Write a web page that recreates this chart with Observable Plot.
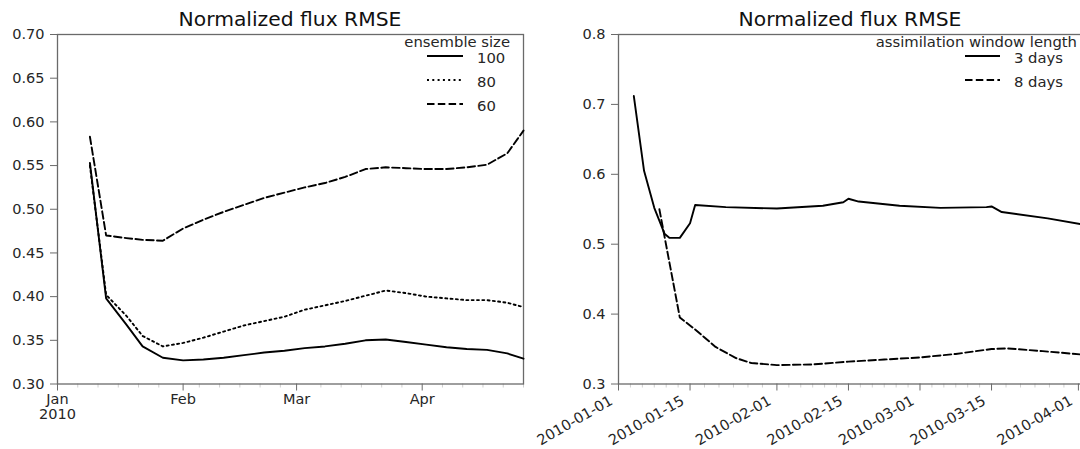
<!DOCTYPE html>
<html><head><meta charset="utf-8">
<script src="https://cdn.jsdelivr.net/npm/d3@7"></script>
<script src="https://cdn.jsdelivr.net/npm/@observablehq/plot@0.6"></script>
<style>
html,body{margin:0;padding:0;background:#fff;overflow:hidden}
#wrap{position:relative;width:1080px;height:449px;overflow:hidden;font-family:"DejaVu Sans",sans-serif}
.title{position:absolute;top:8px;font-size:20.3px;color:#111;white-space:nowrap;transform:translateX(-50%);line-height:22px}
.panel{position:absolute;top:26px}
#overlay{position:absolute;left:0;top:0;pointer-events:none}
</style></head><body><div id="wrap"></div>
<script>
// ---------- data ----------
const titleLeft = "Normalized flux RMSE";
const titleRight = "Normalized flux RMSE";

const leftDates = ["2010-01-09","2010-01-13","2010-01-18","2010-01-22","2010-01-27","2010-02-01","2010-02-06","2010-02-11","2010-02-16","2010-02-21","2010-02-26","2010-03-03","2010-03-08","2010-03-13","2010-03-18","2010-03-23","2010-03-28","2010-04-02","2010-04-07","2010-04-12","2010-04-17","2010-04-22","2010-04-26"];
const size100 = [0.553,0.398,0.368,0.343,0.330,0.327,0.328,0.330,0.333,0.336,0.338,0.341,0.343,0.346,0.350,0.351,0.348,0.345,0.342,0.340,0.339,0.335,0.329];
const size80  = [0.550,0.402,0.378,0.355,0.343,0.347,0.353,0.360,0.367,0.372,0.377,0.385,0.390,0.395,0.401,0.407,0.404,0.400,0.398,0.396,0.396,0.393,0.388];
const size60  = [0.583,0.470,0.467,0.465,0.464,0.478,0.488,0.497,0.505,0.513,0.519,0.525,0.530,0.537,0.546,0.548,0.547,0.546,0.546,0.548,0.551,0.564,0.590];
const ensembleLabels = ["100","80","60"];
const ensembleTitle = "ensemble size";

const rightDates3 = ["2010-01-04","2010-01-06","2010-01-08","2010-01-10","2010-01-11","2010-01-13","2010-01-15","2010-01-16","2010-01-22","2010-02-01","2010-02-10","2010-02-14","2010-02-15","2010-02-17","2010-02-25","2010-03-05","2010-03-14","2010-03-15","2010-03-17","2010-03-26","2010-04-02"];
const win3 = [0.712,0.605,0.552,0.515,0.509,0.509,0.530,0.556,0.553,0.551,0.555,0.560,0.565,0.561,0.555,0.552,0.553,0.554,0.546,0.537,0.528];
const rightDates8 = ["2010-01-09","2010-01-13","2010-01-16","2010-01-20","2010-01-24","2010-01-27","2010-02-01","2010-02-08","2010-02-15","2010-02-22","2010-03-01","2010-03-08","2010-03-15","2010-03-18","2010-03-25","2010-04-02"];
const win8 = [0.550,0.395,0.378,0.353,0.337,0.330,0.327,0.328,0.332,0.335,0.338,0.343,0.350,0.351,0.347,0.342];
const windowLabels = ["3 days","8 days"];
const windowTitle = "assimilation window length";

const leftMajorTicks = ["2010-01-01","2010-02-01","2010-03-01","2010-04-01"];
const leftTickLabels = ["Jan\n2010","Feb","Mar","Apr"];
const leftYTicks = [0.30,0.35,0.40,0.45,0.50,0.55,0.60,0.65,0.70];
const rightMajorTicks = ["2010-01-01","2010-01-15","2010-02-01","2010-02-15","2010-03-01","2010-03-15","2010-04-01"];
const rightYTicks = [0.3,0.4,0.5,0.6,0.7,0.8];

// ---------- helpers ----------
const parse = d3.utcParse("%Y-%m-%d");
const rows = (dates, vals) => dates.map((d, i) => ({date: parse(d), v: vals[i]}));
const FONT = "DejaVu Sans";
const SPINE = "#6a6a6a";
const TXT = "#262626";
const DASH = "7.5,3.3";
const DOT = "2,3.3";
const LW = 1.9;

// minor ticks (left: every 5 days; right: 5 between majors)
const leftMajor = leftMajorTicks.map(parse);
const leftMinor = d3.utcDay.range(parse("2010-01-06"), parse("2010-04-27"), 5)
  .filter(d => !leftMajor.some(m => Math.abs(m - d) < 864e5 * 1.5));
const rightMajor = rightMajorTicks.map(parse);
const rightMinor = [];
for (let i = 0; i < rightMajor.length - 1; i++) {
  const a = +rightMajor[i], b = +rightMajor[i + 1];
  for (let k = 1; k < 6; k++) rightMinor.push(new Date(a + (b - a) * k / 6));
}

const wrap = document.getElementById("wrap");

// ---------- left panel ----------
const left = Plot.plot({
  width: 540, height: 423,
  marginLeft: 57, marginRight: 17, marginTop: 8, marginBottom: 65.5,
  style: {fontFamily: FONT, fontSize: "14.5px", background: "transparent", overflow: "visible", color: TXT},
  x: {type: "utc", domain: [parse("2010-01-01"), parse("2010-04-26")]},
  y: {domain: [0.30, 0.70]},
  marks: [
    Plot.axisX(leftMinor, {tickSize: 4, stroke: "#cfcfcf", strokeWidth: 1, tickFormat: () => "", label: null}),
    Plot.axisX(leftMajor, {tickSize: 7, tickPadding: 3, stroke: SPINE, fill: TXT, label: null,
      tickFormat: d => leftTickLabels[leftMajor.findIndex(m => +m === +d)]}),
    Plot.axisY(leftYTicks, {tickSize: 7, tickPadding: 6, stroke: SPINE, fill: TXT, label: null, tickFormat: d3.format(".2f")}),
    Plot.frame({stroke: SPINE, strokeWidth: 1.3}),
    Plot.line(rows(leftDates, size60), {x: "date", y: "v", stroke: "black", strokeWidth: LW, strokeDasharray: DASH}),
    Plot.line(rows(leftDates, size80), {x: "date", y: "v", stroke: "black", strokeWidth: LW, strokeDasharray: DOT}),
    Plot.line(rows(leftDates, size100), {x: "date", y: "v", stroke: "black", strokeWidth: LW})
  ]
});
left.classList.add("panel");
left.style.left = "0px";
wrap.appendChild(left);

// ---------- right panel ----------
const right = Plot.plot({
  width: 542, height: 423,
  marginLeft: 78, marginRight: 0, marginTop: 8, marginBottom: 65.5,
  style: {fontFamily: FONT, fontSize: "14.5px", background: "transparent", overflow: "visible", color: TXT},
  x: {type: "utc", domain: [parse("2010-01-01"), new Date(+parse("2010-04-01") + 0.8 * 864e5)]},
  y: {domain: [0.3, 0.8]},
  marks: [
    Plot.axisX(rightMinor, {tickSize: 4, stroke: "#cfcfcf", strokeWidth: 1, tickFormat: () => "", label: null}),
    Plot.axisX(rightMajor, {tickSize: 7, stroke: SPINE, tickFormat: () => "", label: null}),
    Plot.axisX(rightMajor, {tickSize: 0, tickPadding: 13, fill: TXT, label: null,
      tickRotate: -30, dx: -7, dy: 2.5, tickFormat: d3.utcFormat("%Y-%m-%d")}),
    Plot.axisY(rightYTicks, {tickSize: 7, tickPadding: 6, stroke: SPINE, fill: TXT, label: null, tickFormat: d3.format(".1f")}),
    Plot.frame({stroke: SPINE, strokeWidth: 1.3}),
    Plot.line(rows(rightDates8, win8), {x: "date", y: "v", stroke: "black", strokeWidth: LW, strokeDasharray: DASH}),
    Plot.line(rows(rightDates3, win3), {x: "date", y: "v", stroke: "black", strokeWidth: LW})
  ]
});
right.classList.add("panel");
right.style.left = "540px";
wrap.appendChild(right);

// ---------- titles ----------
for (const [t, cx] of [[titleLeft, 290], [titleRight, 850]]) {
  const div = document.createElement("div");
  div.className = "title";
  div.textContent = t;
  div.style.left = cx + "px";
  wrap.appendChild(div);
}

// ---------- legends ----------
const ov = d3.select(wrap).append("svg").attr("id", "overlay")
  .attr("width", 1080).attr("height", 449)
  .style("font-family", FONT).style("font-size", "14.8px").style("fill", TXT);
// left legend
ov.append("text").attr("x", 510).attr("y", 47).attr("text-anchor", "end").text(ensembleTitle);
const leftStyles = [null, DOT, DASH];
ensembleLabels.forEach((lab, i) => {
  const y = 56 + i * 24;
  ov.append("line").attr("x1", 427).attr("x2", 463).attr("y1", y).attr("y2", y)
    .attr("stroke", "black").attr("stroke-width", LW).attr("stroke-dasharray", leftStyles[i]);
  ov.append("text").attr("x", 477).attr("y", y + 7).text(lab);
});
// right legend
ov.append("text").attr("x", 1077).attr("y", 47).attr("text-anchor", "end").text(windowTitle);
const rightStyles = [null, DASH];
windowLabels.forEach((lab, i) => {
  const y = 56 + i * 24;
  ov.append("line").attr("x1", 965).attr("x2", 1000).attr("y1", y).attr("y2", y)
    .attr("stroke", "black").attr("stroke-width", LW).attr("stroke-dasharray", rightStyles[i]);
  ov.append("text").attr("x", 1014).attr("y", y + 7).text(lab);
});
</script>
</body></html>
